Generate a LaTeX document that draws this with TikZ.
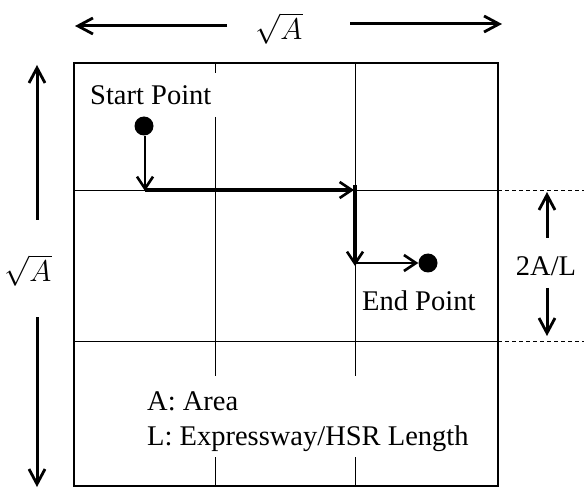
\RequirePackage{fix-cm}
\documentclass[tikz,border=0pt]{standalone}
\usepackage{fontspec}
\setmainfont{Liberation Serif}
\usetikzlibrary{arrows.meta}
\begin{document}
\begin{tikzpicture}[x=1pt,y=-1pt,
  lbl/.style={font=\fontsize{28.5}{34}\selectfont, inner sep=1pt},
  mathlbl/.style={font=\fontsize{30}{36}\selectfont, inner sep=0pt, anchor=base},
  gridline/.style={line width=0.9pt},
  frame/.style={line width=2.8pt},
  routetip/.style={-{Straight Barb[length=12pt,width=16pt,line width=2.6pt]}},
  dimtip/.style={-{Straight Barb[length=15pt,width=16pt,line width=2.8pt]}},
  dim/.style={dimtip, line width=3pt},
  guide/.style={line width=0.8pt, dash pattern=on 4pt off 3pt},
  dot/.style={circle, fill=black, minimum size=19pt, inner sep=0pt}]
\useasboundingbox (0,0) rectangle (584,489);

% region corners and grid positions
\coordinate (tl) at (74,63);
\coordinate (br) at (498,486);
\coordinate (h1l) at (74,190);  \coordinate (h1r) at (498,190);
\coordinate (h2l) at (74,341);  \coordinate (h2r) at (498,341);

% grid: vertical lines are broken where the labels sit
\draw[gridline] (215,63) -- (215,73);
\draw[gridline] (215,117) -- (215,376);
\draw[gridline] (215,457) -- (215,486);
\draw[gridline] (355,63) -- (355,376);
\draw[gridline] (355,457) -- (355,486);
\draw[gridline] (h1l) -- (h1r);
\draw[gridline] (h2l) -- (h2r);

% labels
\node[lbl, anchor=base west] (start) at (89,105) {Start Point};
\node[lbl, anchor=base west] (end) at (361,310) {End Point};
\node[lbl, anchor=base west] (legA) at (146,410) {A: Area};
\node[lbl, anchor=base west] (legL) at (146,445) {L: Expressway/HSR Length};

% frame
\draw[frame] (tl) rectangle (br);

% route from start to end
\node[dot] (p0) at (144,126) {};
\coordinate (c1) at (145,190);
\coordinate (c2) at (355,190);
\coordinate (c3) at (355,263);
\node[dot] (p1) at (428,263) {};
\draw[routetip, line width=2.2pt] (p0.south -| c1) -- ([yshift=-1pt]c1);
\draw[routetip, line width=4pt] (c1) -- ([xshift=-1pt]c2);
\draw[routetip, line width=3.4pt] ([yshift=5pt]c2) -- ([yshift=-3pt]c3);
\draw[routetip, line width=2.6pt] ([xshift=1pt]c3) -- (p1.west);

% width of the region
\node[mathlbl] (wlab) at (279,40) {$\sqrt{A}$};
\coordinate (wl) at (75,26);
\coordinate (wr) at (502,24);
\draw[dim] (227,26) -- (wl);
\draw[dim] (350,24) -- (wr);

% height of the region
\node[mathlbl] (hlab) at (28,282) {$\sqrt{A}$};
\coordinate (ht) at (37,65);
\coordinate (hb) at (37,487);
\draw[dim] (37,220) -- (ht);
\draw[dim] (37,317) -- (hb);

% band width 2A/L
\draw[guide] (h1r) -- (584,190);
\draw[guide] (h2r) -- (584,341);
\node[lbl] (blab) at (546,266) {2A/L};
\coordinate (bt) at (547,192);
\coordinate (bb) at (547,336);
\draw[dim] (547,238) -- (bt);
\draw[dim] (547,288) -- (bb);
\end{tikzpicture}
\end{document}
